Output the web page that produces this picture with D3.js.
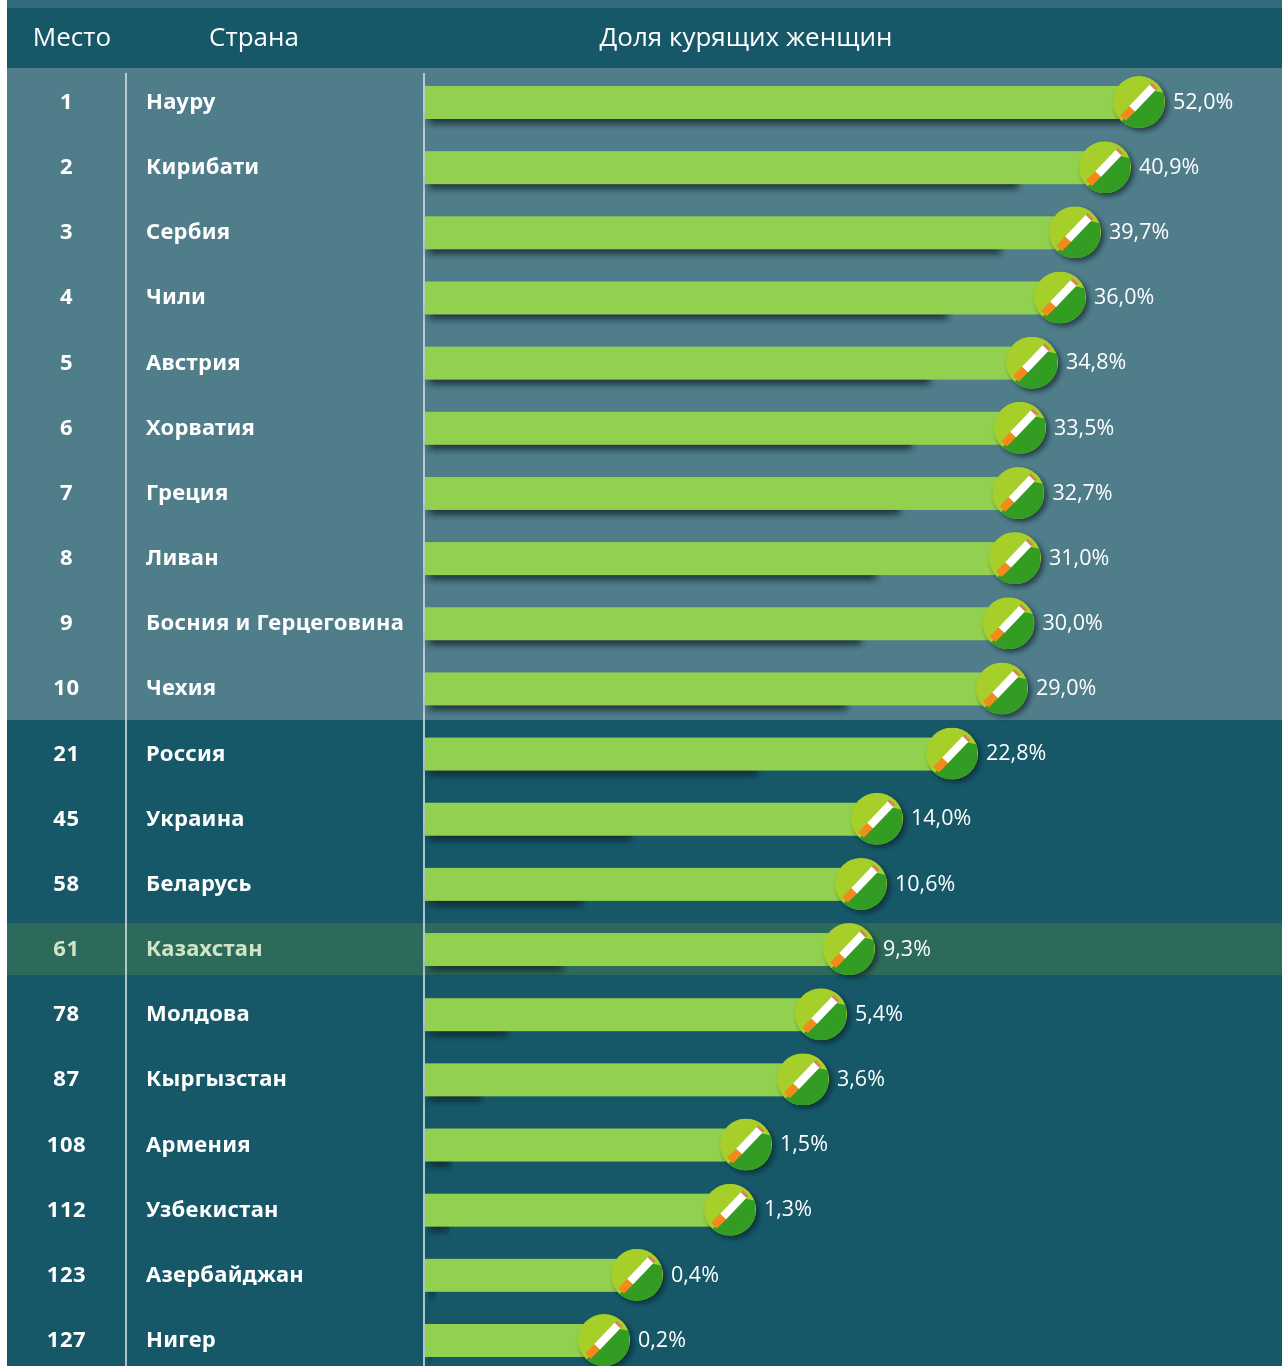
<!DOCTYPE html>
<html>
<head>
<meta charset="utf-8">
<script src="https://cdn.jsdelivr.net/npm/d3@7"></script>
<style>
  html, body { margin: 0; padding: 0; background: #fff; }
  text { fill: #fff; font-family: "Open Sans", sans-serif; }
  .name, .rank { font-family: "Noto Sans", sans-serif; font-weight: 700; }
</style>
</head>
<body>
<div id="chart"></div>
<script>
/* ranking of countries by share of smoking women */

const headers = ["Место", "Страна", "Доля курящих женщин"];
const ranks = [1, 2, 3, 4, 5, 6, 7, 8, 9, 10, 21, 45, 58, 61, 78, 87, 108, 112, 123, 127];
const countries = ["Науру", "Кирибати", "Сербия", "Чили", "Австрия", "Хорватия", "Греция", "Ливан",
  "Босния и Герцеговина", "Чехия", "Россия", "Украина", "Беларусь", "Казахстан", "Молдова",
  "Кыргызстан", "Армения", "Узбекистан", "Азербайджан", "Нигер"];
const shares = [52.0, 40.9, 39.7, 36.0, 34.8, 33.5, 32.7, 31.0, 30.0, 29.0, 22.8, 14.0, 10.6, 9.3, 5.4, 3.6, 1.5, 1.3, 0.4, 0.2];
const highlighted = "Казахстан";

const width = 1282,
      height = 1366,
      gutter = 7,
      headTop = 8,
      headBottom = 68,
      splitY = 720,
      plotLeft = 425;

const data = countries.map((c, i) => ({ country: c, rank: ranks[i], share: shares[i] }));

const svg = d3.select("#chart")
  .append("svg")
  .attr("width", width)
  .attr("height", height)
  .attr("viewBox", [0, 0, width, height])
  .style("display", "block");

const defs = svg.append("defs");

defs.append("filter").attr("id", "soft")
  .append("feGaussianBlur").attr("stdDeviation", 0.5);

defs.append("filter").attr("id", "shadow")
  .attr("x", "-10%").attr("width", "120%").attr("y", "-300%").attr("height", "700%")
  .append("feGaussianBlur").attr("stdDeviation", 3.6);

defs.append("filter").attr("id", "iconShadow")
  .attr("x", "-30%").attr("y", "-30%").attr("width", "160%").attr("height", "160%")
  .append("feGaussianBlur").attr("stdDeviation", 2.4);

defs.append("clipPath").attr("id", "disc")
  .append("circle").attr("r", 26);

// the drawn bars are not proportional to the number, so the length scale is piecewise
const barScale = d3.scaleLinear()
  .domain([0.2, 0.4, 1.3, 1.5, 3.6, 5.4, 9.3, 10.6, 14, 22.8, 29, 31, 33.5, 34.8, 36, 39.7, 40.9, 52])
  .range([179, 212, 305, 321, 378, 396, 424, 436, 452, 527, 577, 590, 595, 607, 635, 650, 680, 714]);

// the shadow under each bar stays true to the number
const shadowScale = d3.scaleLinear()
  .domain([0, 52])
  .range([0, 749]);

const y = d3.scalePoint()
  .domain(countries)
  .range([102, 1340]);

const root = svg.append("g").attr("filter", "url(#soft)");

// backgrounds
root.append("rect").attr("x", gutter).attr("y", 0)
  .attr("width", width - gutter).attr("height", headTop).attr("fill", "#336c7b");
root.append("rect").attr("x", gutter).attr("y", headTop)
  .attr("width", width - gutter).attr("height", headBottom - headTop).attr("fill", "#155868");
root.append("rect").attr("x", gutter).attr("y", headBottom)
  .attr("width", width - gutter).attr("height", splitY - headBottom).attr("fill", "#507d8a");
root.append("rect").attr("x", gutter).attr("y", splitY)
  .attr("width", width - gutter).attr("height", height - splitY).attr("fill", "#155868");
root.append("rect").attr("x", gutter).attr("y", y(highlighted) - 26)
  .attr("width", width - gutter).attr("height", 52).attr("fill", "#2e6b5c");

// column rules
root.selectAll(".rule")
  .data([126, 424])
  .join("line")
  .attr("class", "rule")
  .attr("x1", d => d).attr("x2", d => d)
  .attr("y1", 73).attr("y2", height)
  .attr("stroke", "#d5dfe2")
  .attr("stroke-width", 1.6);

// header
root.selectAll(".head")
  .data(headers)
  .join("text")
  .attr("class", "head")
  .attr("x", (d, i) => [72, 254, 746][i])
  .attr("y", 39)
  .attr("text-anchor", "middle")
  .attr("dominant-baseline", "middle")
  .attr("font-size", 26)
  .style("font-weight", 500)
  .text(d => d);

const rows = root.selectAll(".row")
  .data(data)
  .join("g")
  .attr("class", "row")
  .attr("transform", d => `translate(0,${y(d.country)})`);

rows.append("text")
  .attr("class", "rank")
  .attr("x", 66.5)
  .attr("y", 1)
  .attr("dominant-baseline", "middle")
  .attr("text-anchor", "middle")
  .attr("font-size", 22)
  .style("letter-spacing", "0.6px")
  .style("fill", d => d.country === highlighted ? "#cfe5c6" : "#fff")
  .text(d => d.rank);

rows.append("text")
  .attr("class", "name")
  .attr("x", 146)
  .attr("y", 1)
  .attr("dominant-baseline", "middle")
  .attr("font-size", 22)
  .style("letter-spacing", "0.25px")
  .style("fill", d => d.country === highlighted ? "#cfe5c6" : "#fff")
  .text(d => d.country);

// bar shadow
rows.append("rect")
  .attr("x", plotLeft + 4)
  .attr("y", 13)
  .attr("width", d => Math.min(shadowScale(d.share), barScale(d.share) - 20))
  .attr("height", 8)
  .attr("fill", "#081c20")
  .attr("opacity", 0.9)
  .attr("filter", "url(#shadow)");

rows.append("rect")
  .attr("x", plotLeft)
  .attr("y", -16)
  .attr("width", d => barScale(d.share))
  .attr("height", 33)
  .attr("fill", "#92d14f");

// cigarette badge at the end of the bar
const badge = rows.append("g")
  .attr("transform", d => `translate(${plotLeft + barScale(d.share)},0)`);

badge.append("circle")
  .attr("cx", 3).attr("cy", 3).attr("r", 26)
  .attr("fill", "#081c20")
  .attr("opacity", 0.65)
  .attr("filter", "url(#iconShadow)");

const disc = badge.append("g").attr("clip-path", "url(#disc)");

disc.append("rect")
  .attr("x", -26).attr("y", -26).attr("width", 52).attr("height", 52)
  .attr("fill", "#a6cf2a");

disc.append("path")
  .attr("d", "M25,-9L26,26L-26,26L-15,17L12,-12Z")
  .attr("fill", "#339d22");

disc.append("line")
  .attr("x1", -7).attr("y1", 7).attr("x2", 14).attr("y2", -15)
  .attr("stroke", "#fff").attr("stroke-width", 8);

disc.append("line")
  .attr("x1", -16).attr("y1", 16).attr("x2", -7).attr("y2", 7)
  .attr("stroke", "#f58a1f").attr("stroke-width", 8);

disc.append("line")
  .attr("x1", 13.5).attr("y1", -14.5).attr("x2", 15.5).attr("y2", -16.5)
  .attr("stroke", "#d9825a").attr("stroke-width", 8);

rows.append("text")
  .attr("x", d => plotLeft + barScale(d.share) + 34)
  .attr("y", 1)
  .attr("dominant-baseline", "middle")
  .attr("font-size", 21.5)
  .text(d => d.share.toFixed(1).replace(".", ",") + "%");
</script>
</body>
</html>
